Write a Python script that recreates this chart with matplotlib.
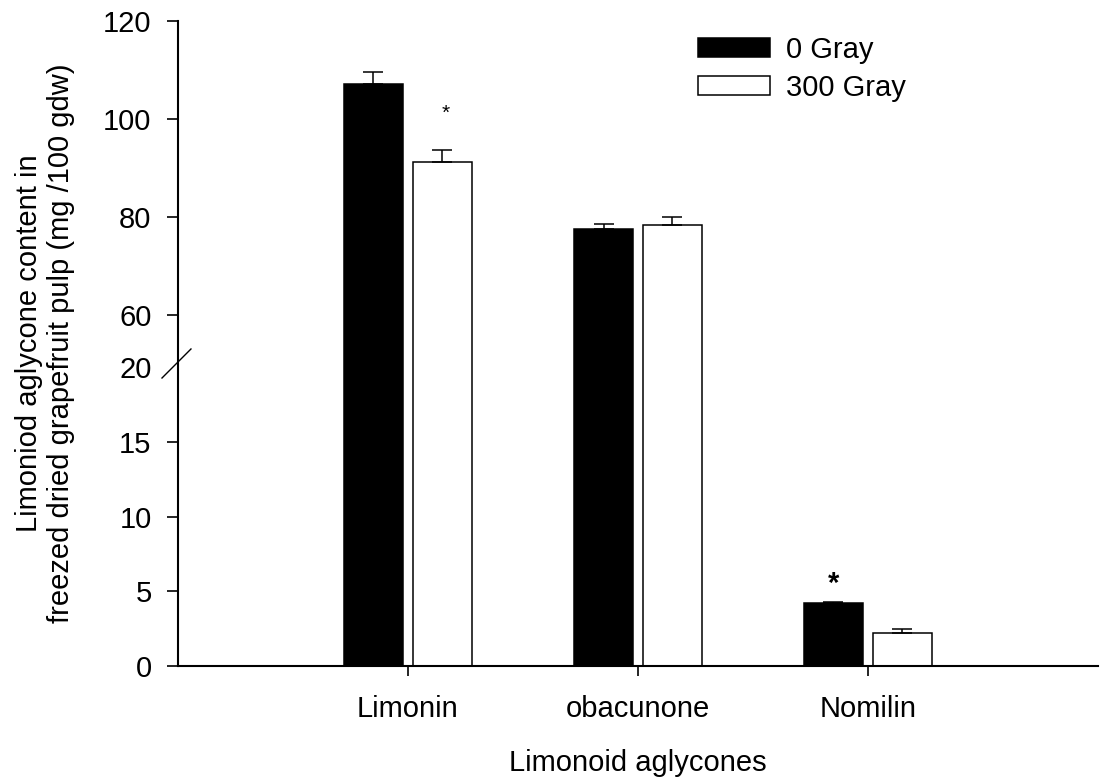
import numpy as np
import matplotlib.pyplot as plt

plt.rcParams['font.family'] = ['Liberation Sans', 'DejaVu Sans']

# data
compounds = ['Limonin', 'obacunone', 'Nomilin']
gray_0 = [107.1, 77.5, 4.2]
gray_0_err = [2.5, 1.1, 0.05]
gray_300 = [91.2, 78.4, 2.2]
gray_300_err = [2.5, 1.7, 0.25]
yticks = [0, 5, 10, 15, 20, 60, 80, 100, 120]

# broken y axis: 0-20 stretched, 20-60 squeezed into a small gap, 60-120 compressed
def fwd(v):
    v = np.asarray(v, dtype=float)
    return np.where(v <= 20, v * 14.95,
                    np.where(v <= 60, 299 + (v - 20) * 1.3, 351 + (v - 60) * 4.9))

def inv(p):
    p = np.asarray(p, dtype=float)
    return np.where(p <= 299, p / 14.95,
                    np.where(p <= 351, 20 + (p - 299) / 1.3, 60 + (p - 351) / 4.9))

fs = 21

fig = plt.figure(figsize=(11, 7.84), dpi=100)
ax = fig.add_axes([178 / 1100, 1 - 666 / 784, 920 / 1100, 645 / 784])
ax.set_yscale('function', functions=(fwd, inv))

x = np.arange(1, len(compounds) + 1)
w = 0.26
ekw = dict(elinewidth=1.1, capthick=1.1, ecolor='black')
ax.bar(x - 0.15, gray_0, w, color='black', edgecolor='black', linewidth=1.1,
       yerr=[[0] * 3, gray_0_err], capsize=7, error_kw=ekw, label='0 Gray')
ax.bar(x + 0.15, gray_300, w, color='white', edgecolor='black', linewidth=1.1,
       yerr=[[0] * 3, gray_300_err], capsize=7, error_kw=ekw, label='300 Gray')

# significance marks
ax.text(1 + 0.165, 101.2, '*', ha='center', va='center', fontsize=15)
ax.text(3 - 0.15, 5.5, '*', ha='center', va='center', fontsize=21, fontweight='bold')

ax.set_xlim(0, 4)
ax.set_ylim(0, 120)
ax.set_yticks(yticks)
ax.set_yticklabels([str(t) for t in yticks])
ax.set_xticks(x)
ax.set_xticklabels(compounds)

for s in ['top', 'right']:
    ax.spines[s].set_visible(False)
for s in ['left', 'bottom']:
    ax.spines[s].set_linewidth(1.5)

ax.tick_params(axis='y', direction='out', length=8, width=1.2, labelsize=fs, pad=11)
ax.tick_params(axis='x', direction='out', length=7, width=1.2, labelsize=fs, pad=14)
ax.yaxis.get_major_ticks()[4].tick1line.set_visible(False)

# axis break mark
ax.plot([-0.0174, 0.0141], [0.4465, 0.4915], color='black', lw=1,
        transform=ax.transAxes, clip_on=False)

ax.set_xlabel('Limonoid aglycones', fontsize=fs)
ax.xaxis.set_label_coords(0.5, -0.128)
ax.set_ylabel('Limoniod aglycone content in\nfreezed dried grapefruit pulp (mg /100 gdw)',
              fontsize=fs, linespacing=1.2)
ax.yaxis.set_label_coords(-0.112, 0.5)

ax.legend(loc='upper left', bbox_to_anchor=(698 / 1100, 1 - 36 / 784),
          bbox_transform=fig.transFigure, frameon=False, fontsize=fs,
          handlelength=2.47, handleheight=0.62, handletextpad=0.55,
          labelspacing=0.33, borderpad=0, borderaxespad=0)

fig.savefig('out.png', dpi=100)
